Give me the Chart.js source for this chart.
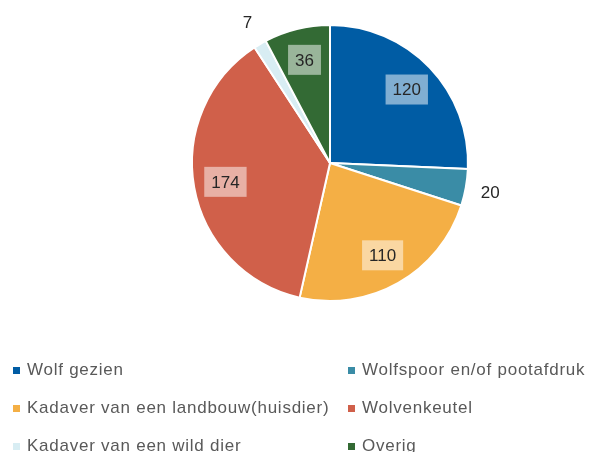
<!DOCTYPE html>
<html>
<head>
<meta charset="utf-8">
<script src="https://cdn.jsdelivr.net/npm/chart.js@4"></script>
<style>
  html, body { margin:0; padding:0; background:#fff; }
  #wrap { position:relative; width:590px; height:452px; overflow:hidden; }
  #pie { position:absolute; left:0; top:0; }
  .legend { position:absolute; left:0; top:0; width:590px; font-family:"Liberation Sans", Arial, sans-serif;
            font-size:17px; color:#595959; letter-spacing:0.75px; }
  .item { position:absolute; white-space:nowrap; line-height:20px; }
  .item i { display:inline-block; width:7px; height:7px; margin-right:7px; vertical-align:1px; }
</style>
</head>
<body>
<div id="wrap">
  <canvas id="pie" width="590" height="452"></canvas>
  <div class="legend" id="legend"></div>
</div>
<script>
const labels = ['Wolf gezien', 'Wolfspoor en/of pootafdruk', 'Kadaver van een landbouw(huisdier)',
                'Wolvenkeutel', 'Kadaver van een wild dier', 'Overig'];
const counts = [120, 20, 110, 174, 7, 36];
const colors = ['#005ca4', '#3a8ca6', '#f4af45', '#d0604a', '#d8edf3', '#336a34'];

// legend grid: two columns, three rows
const legendPos = [[13, 360], [348, 360], [13, 398], [348, 398], [13, 436], [348, 436]];

const labelPlugin = {
  id: 'sliceLabels',
  afterDatasetsDraw(chart) {
    const ctx = chart.ctx;
    const meta = chart.getDatasetMeta(0);
    ctx.save();
    ctx.font = '17px "Liberation Sans", Arial, sans-serif';
    ctx.textAlign = 'center';
    ctx.textBaseline = 'middle';
    meta.data.forEach((arc, i) => {
      const p = arc.getProps(['x','y','startAngle','endAngle','outerRadius'], true);
      const mid = (p.startAngle + p.endAngle) / 2;
      const txt = String(counts[i]);
      const outside = counts[i] < 25;
      const r = p.outerRadius * (outside ? 1.18 : 0.77);
      const x = p.x + Math.cos(mid) * r;
      const y = p.y + Math.sin(mid) * r;
      if (!outside) {
        const w = ctx.measureText(txt).width + 14;
        const h = 30;
        ctx.fillStyle = 'rgba(255,255,255,0.5)';
        ctx.fillRect(x - w/2, y - h/2, w, h);
      }
      ctx.fillStyle = '#262626';
      ctx.fillText(txt, x, y + 1);
    });
    ctx.restore();
  }
};

new Chart(document.getElementById('pie'), {
  type: 'pie',
  data: {
    labels,
    datasets: [{
      data: counts,
      backgroundColor: colors,
      borderColor: '#ffffff',
      borderWidth: 2,
    }]
  },
  options: {
    responsive: false,
    animation: false,
    layout: { padding: { top: 24, bottom: 150, left: 191, right: 121 } },
    plugins: { legend: { display: false }, tooltip: { enabled: false } }
  },
  plugins: [labelPlugin]
});

const lg = document.getElementById('legend');
labels.forEach((name, i) => {
  const d = document.createElement('div');
  d.className = 'item';
  d.style.left = legendPos[i][0] + 'px';
  d.style.top = legendPos[i][1] + 'px';
  d.innerHTML = `<i style="background:${colors[i]}"></i>${name}`;
  lg.appendChild(d);
});
</script>
</body>
</html>
